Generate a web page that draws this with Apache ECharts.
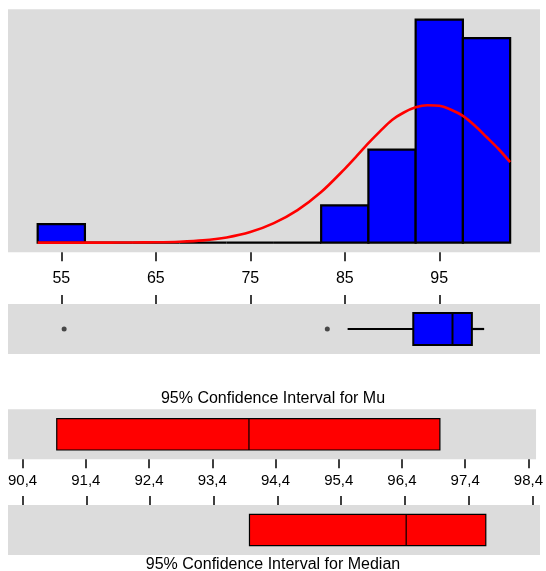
<!DOCTYPE html>
<html>
<head>
<meta charset="utf-8">
<script src="https://cdn.jsdelivr.net/npm/echarts@6/dist/echarts.min.js"></script>
<style>
html,body{margin:0;padding:0;background:#fff;}
#chart{width:546px;height:571px;}
</style>
</head>
<body>
<div id="chart"></div>
<script>
// ---- data ----
var binStarts = [52.5, 57.5, 62.5, 67.5, 72.5, 77.5, 82.5, 87.5, 92.5, 97.5];
var binWidth = 5;
var binCounts = [1, 0, 0, 0, 0, 0, 2, 5, 12, 11];
var curveX = [52.5, 55, 57.5, 60, 62.5, 65, 67.5, 70, 72.5, 75, 77.5, 80, 82.5, 85, 86.25, 87.5, 88.75, 90, 91.25, 92.5, 93.75, 95, 96.25, 97.5, 98.75, 100, 101.25, 102.5];
var curveY = [0, 0, 0, 0, 0.01, 0.02, 0.05, 0.12, 0.28, 0.57, 1.05, 1.75, 2.72, 3.97, 4.65, 5.35, 6.0, 6.6, 7.0, 7.28, 7.39, 7.36, 7.15, 6.82, 6.3, 5.68, 5.05, 4.33];
var boxStats = [85.3, 92.25, 96.4, 98.45, 99.75]; // low whisker, Q1, median, Q3, high whisker
var outliers = [55.3, 83.15];
var muCI = [90.94, 93.98, 97.0];      // lower, mean, upper
var medianCI = [93.96, 96.42, 97.67]; // lower, median, upper
var topTicks = [55, 65, 75, 85, 95];
var ciTicks = [90.4, 91.4, 92.4, 93.4, 94.4, 95.4, 96.4, 97.4, 98.4];
var muTitle = '95% Confidence Interval for Mu';
var medianTitle = '95% Confidence Interval for Median';

// ---- chart ----
var FONT = '"Liberation Sans", Arial, sans-serif';
var BG = '#DCDCDC';
var chart = echarts.init(document.getElementById('chart'), null, {renderer: 'canvas'});

function gridDef(top, height) {
  return {left: 8, right: 6, top: top, height: height, show: true,
          backgroundColor: BG, borderWidth: 0, containLabel: false};
}
function xAxisDef(grid, min, max, pos, ticks, showLabel, fontSize, margin, fmt) {
  return {
    type: 'value', gridIndex: grid, min: min, max: max, position: pos,
    axisLine: {show: false, onZero: false}, splitLine: {show: false},
    axisTick: {show: true, customValues: ticks, length: 9, inside: false,
               lineStyle: {color: '#000', width: 1.5}},
    axisLabel: {show: showLabel, customValues: ticks, color: '#000',
                fontFamily: FONT, fontSize: fontSize, margin: margin,
                formatter: fmt}
  };
}
function yAxisDef(grid, min, max) {
  return {type: 'value', gridIndex: grid, min: min, max: max, show: false,
          axisLine: {onZero: false}, splitLine: {show: false}};
}

var histData = binStarts.map(function (s, i) { return [s, s + binWidth, binCounts[i]]; });
var curveData = curveX.map(function (x, i) { return [x, curveY[i]]; });
var ciFmt = function (v) { return v.toFixed(1).replace('.', ','); };

function boxRender(params, api) {
  var cy = api.coord([boxStats[0], 0.5])[1];
  var h = 16;
  var xs = boxStats.map(function (v) { return api.coord([v, 0.5])[0]; });
  return {type: 'group', children: [
    {type: 'line', shape: {x1: xs[0], y1: cy, x2: xs[1], y2: cy}, style: {stroke: '#000', lineWidth: 2.2}},
    {type: 'line', shape: {x1: xs[3], y1: cy, x2: xs[4], y2: cy}, style: {stroke: '#000', lineWidth: 2.2}},
    {type: 'rect', shape: {x: xs[1], y: cy - h, width: xs[3] - xs[1], height: 2 * h},
     style: {fill: '#0000FF', stroke: '#000', lineWidth: 2}},
    {type: 'line', shape: {x1: xs[2], y1: cy - h, x2: xs[2], y2: cy + h}, style: {stroke: '#000', lineWidth: 2}}
  ]};
}
function ciRenderFactory(arr) {
  return function (params, api) {
    var cy = api.coord([arr[0], 0.5])[1];
    var h = 15.7;
    var xs = arr.map(function (v) { return api.coord([v, 0.5])[0]; });
    return {type: 'group', children: [
      {type: 'rect', shape: {x: xs[0], y: cy - h, width: xs[2] - xs[0], height: 2 * h},
       style: {fill: '#FF0000', stroke: '#000', lineWidth: 1.2}},
      {type: 'line', shape: {x1: xs[1], y1: cy - h, x2: xs[1], y2: cy + h}, style: {stroke: '#000', lineWidth: 1.2}}
    ]};
  };
}

var option = {
  animation: false,
  backgroundColor: '#fff',
  title: [
    {text: muTitle, left: 'center', top: 386,
     textStyle: {fontFamily: FONT, fontSize: 16, fontWeight: 'normal', color: '#000'}},
    {text: medianTitle, left: 'center', top: 552,
     textStyle: {fontFamily: FONT, fontSize: 16, fontWeight: 'normal', color: '#000'}}
  ],
  grid: [gridDef(9.3, 243), gridDef(304, 50), gridDef(409.3, 50), gridDef(505, 50)],
  xAxis: [
    xAxisDef(0, 49.36, 105.66, 'bottom', topTicks, true, 16, 18, null),
    xAxisDef(1, 49.36, 105.66, 'top', topTicks, false, 16, 8, null),
    xAxisDef(2, 90.169, 98.521, 'bottom', ciTicks, true, 15, 14, ciFmt),
    xAxisDef(3, 90.169, 98.521, 'top', ciTicks, false, 15, 8, ciFmt)
  ],
  yAxis: [yAxisDef(0, -0.52, 12.55), yAxisDef(1, 0, 1), yAxisDef(2, 0, 1), yAxisDef(3, 0, 1)],
  series: [
    {
      type: 'custom', xAxisIndex: 0, yAxisIndex: 0, data: histData,
      encode: {x: [0, 1], y: 2}, z: 2,
      renderItem: function (params, api) {
        var p0 = api.coord([api.value(0), api.value(2)]);
        var p1 = api.coord([api.value(1), 0]);
        return {type: 'rect', shape: {x: p0[0], y: p0[1], width: p1[0] - p0[0], height: p1[1] - p0[1]},
                style: {fill: '#0000FF', stroke: '#000', lineWidth: 2.2}};
      }
    },
    {
      type: 'line', xAxisIndex: 0, yAxisIndex: 0, data: curveData, smooth: 0.3,
      symbol: 'none', z: 5, lineStyle: {color: '#FF0000', width: 2.6}
    },
    {
      type: 'custom', xAxisIndex: 1, yAxisIndex: 1, data: [boxStats],
      encode: {x: [0, 1, 2, 3, 4]}, renderItem: boxRender, z: 3
    },
    {
      type: 'scatter', xAxisIndex: 1, yAxisIndex: 1,
      data: outliers.map(function (v) { return [v, 0.5]; }),
      symbol: 'circle', symbolSize: 5, itemStyle: {color: '#222'}, z: 4
    },
    {
      type: 'custom', xAxisIndex: 2, yAxisIndex: 2, data: [muCI],
      encode: {x: [0, 1, 2]}, renderItem: ciRenderFactory(muCI), z: 3
    },
    {
      type: 'custom', xAxisIndex: 3, yAxisIndex: 3, data: [medianCI],
      encode: {x: [0, 1, 2]}, renderItem: ciRenderFactory(medianCI), z: 3
    }
  ]
};
chart.setOption(option);
</script>
</body>
</html>
